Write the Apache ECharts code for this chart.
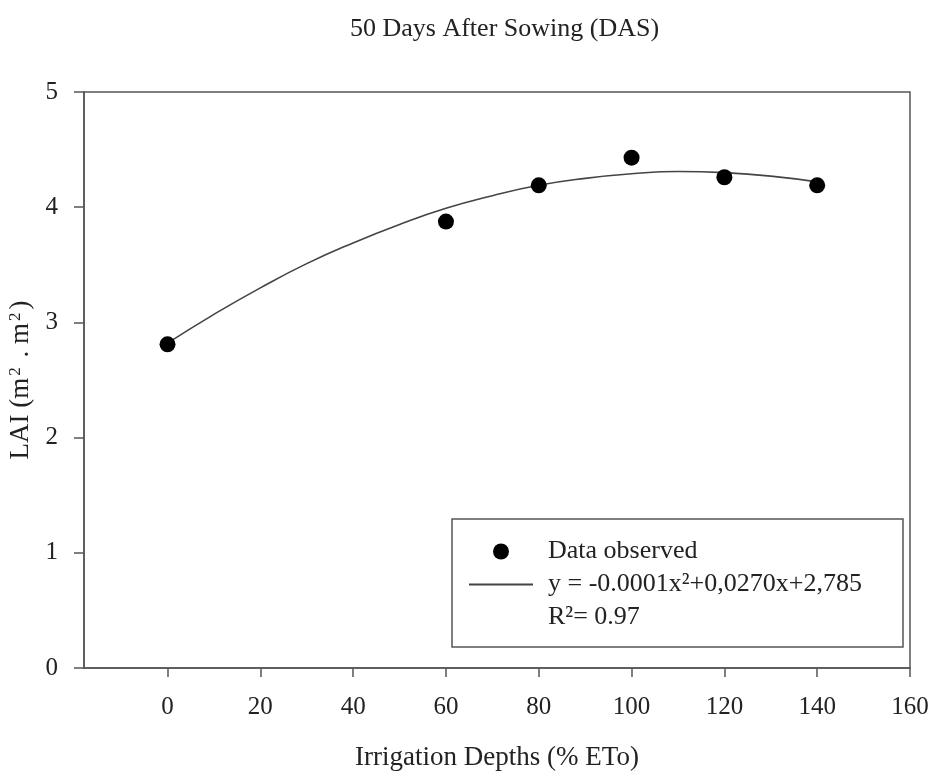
<!DOCTYPE html>
<html>
<head>
<meta charset="utf-8">
<script src="https://cdn.jsdelivr.net/npm/echarts@6/dist/echarts.min.js"></script>
<style>
  html, body { margin: 0; padding: 0; background: #fff; }
  #chart { width: 935px; height: 772px; }
</style>
</head>
<body>
<div id="chart"></div>
<script>
// observed LAI at each irrigation depth
var depths = [0, 60, 80, 100, 120, 140];
var lai = [2.81, 3.875, 4.19, 4.43, 4.26, 4.19];

// fitted curve
var fitX = [0, 10, 20, 30, 40, 50, 60, 70, 80, 90, 100, 110, 120, 130, 140];
var fitY = [2.82, 3.07, 3.30, 3.51, 3.69, 3.85, 3.99, 4.10, 4.19, 4.25, 4.29, 4.31, 4.30, 4.27, 4.22];

var xTicks = [0, 20, 40, 60, 80, 100, 120, 140, 160];

var font = 'Liberation Serif';
var axisColor = '#555';
var textColor = '#222';

var myChart = echarts.init(document.getElementById('chart'));

var option = {
    animation: false,
    textStyle: { fontFamily: font, color: textColor },
    title: {
        text: '50 Days After Sowing (DAS)',
        left: 345,
        top: 11,
        textStyle: { fontFamily: font, fontSize: 26, fontWeight: 'normal', color: textColor }
    },
    grid: {
        left: 84,
        right: 25,
        top: 92,
        bottom: 104,
        outerBoundsMode: 'none',
        show: true,
        borderColor: axisColor,
        borderWidth: 1.5
    },
    legend: {
        left: 468,
        top: 535,
        orient: 'vertical',
        itemWidth: 64,
        itemHeight: 16,
        itemGap: 0,
        padding: 0,
        textStyle: { fontFamily: font, fontSize: 26, color: textColor, lineHeight: 33, padding: [0, 0, 0, 10] },
        data: [
            { name: 'Data observed', itemStyle: { opacity: 1 } },
            { name: 'y = -0.0001x²+0,0270x+2,785', itemStyle: { opacity: 0 } },
            { name: 'R²= 0.97', icon: 'none' }
        ]
    },
    graphic: [
        {
            type: 'rect',
            shape: { x: 452, y: 519, width: 451, height: 128 },
            style: { fill: 'none', stroke: axisColor, lineWidth: 1.5 },
            z: 10
        }
    ],
    xAxis: {
        type: 'value',
        min: -18,
        max: 160,
        name: 'Irrigation Depths (% ETo)',
        nameLocation: 'middle',
        nameGap: 76,
        nameTextStyle: { fontFamily: font, fontSize: 27, color: textColor },
        axisLine: { onZero: false, lineStyle: { color: axisColor, width: 1.5 } },
        axisTick: { show: true, length: 9, customValues: xTicks, lineStyle: { color: axisColor, width: 1.5 } },
        axisLabel: { customValues: xTicks, margin: 27, fontFamily: font, fontSize: 25, color: textColor },
        splitLine: { show: false }
    },
    yAxis: {
        type: 'value',
        min: 0,
        max: 5,
        interval: 1,
        name: 'LAI (m{sup|2} . m{sup|2})',
        nameLocation: 'middle',
        nameGap: 38,
        nameTextStyle: {
            fontFamily: font, fontSize: 27, color: textColor,
            rich: { sup: { fontFamily: font, fontSize: 17, color: textColor, verticalAlign: 'top', padding: [0, 3, 12, 2] } }
        },
        axisLine: { onZero: false, lineStyle: { color: axisColor, width: 1.5 } },
        axisTick: { show: true, length: 10, lineStyle: { color: axisColor, width: 1.5 } },
        axisLabel: { margin: 26, fontFamily: font, fontSize: 25, color: textColor },
        splitLine: { show: false }
    },
    series: [
        {
            name: 'y = -0.0001x²+0,0270x+2,785',
            type: 'line',
            smooth: true,
            symbol: 'none',
            lineStyle: { color: '#444', width: 1.6 },
            itemStyle: { color: '#444' },
            data: fitX.map(function (x, i) { return [x, fitY[i]]; }),
            z: 2
        },
        {
            name: 'Data observed',
            type: 'scatter',
            symbol: 'circle',
            symbolSize: 16,
            itemStyle: { color: '#000', opacity: 1 },
            data: depths.map(function (x, i) { return [x, lai[i]]; }),
            z: 3
        },
        {
            name: 'R²= 0.97',
            type: 'line',
            data: []
        }
    ]
};
myChart.setOption(option);

window.addEventListener('resize', function () {
    myChart.resize();
});
</script>
</body>
</html>
